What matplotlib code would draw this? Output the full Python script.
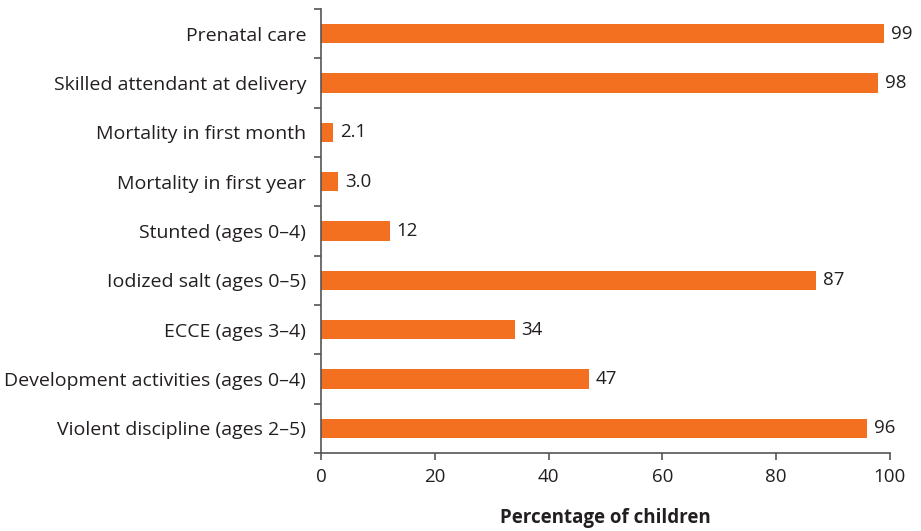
import numpy as np
import matplotlib.pyplot as plt

categories = [
    "Prenatal care",
    "Skilled attendant at delivery",
    "Mortality in first month",
    "Mortality in first year",
    "Stunted (ages 0\u20134)",
    "Iodized salt (ages 0\u20135)",
    "ECCE (ages 3\u20134)",
    "Development activities (ages 0\u20134)",
    "Violent discipline (ages 2\u20135)",
]
values = [99, 98, 2.1, 3.0, 12, 87, 34, 47, 96]
value_labels = ["99", "98", "2.1", "3.0", "12", "87", "34", "47", "96"]
xticks = [0, 20, 40, 60, 80, 100]

plt.rcParams['font.family'] = ['Open Sans', 'DejaVu Sans']
text_col = '#231f20'
spine_col = '#555555'
bar_col = '#f37021'
fs = 13.5

fig = plt.figure(figsize=(9.21, 5.31), dpi=100)
ax = fig.add_axes([0.349, 0.147, 0.617, 0.836])

y = np.arange(len(categories))
ax.barh(y, values, height=0.39, color=bar_col)

# value labels just past the bar ends
for yi, v, lab in zip(y, values, value_labels):
    ax.annotate(lab, (v, yi), xytext=(5, 0), textcoords='offset points',
                va='center', ha='left', fontsize=fs, color=text_col)

ax.set_ylim(len(categories) - 0.5, -0.5)
ax.set_xlim(0, 100)
ax.set_yticks(y)
ax.set_yticklabels(categories)
# ticks sit between categories on the left axis
ax.set_yticks(np.arange(len(categories) + 1) - 0.5, minor=True)
ax.tick_params(axis='y', which='major', length=0, pad=11, labelsize=14, labelcolor=text_col)
ax.tick_params(axis='y', which='minor', length=5, width=1.2, color=spine_col)

ax.set_xticks(xticks)
ax.tick_params(axis='x', length=5, width=1.2, color=spine_col, labelsize=fs,
               labelcolor=text_col, pad=6)

for s in ['top', 'right']:
    ax.spines[s].set_visible(False)
for s in ['left', 'bottom']:
    ax.spines[s].set_color(spine_col)
    ax.spines[s].set_linewidth(1.2)

ax.set_xlabel("Percentage of children", fontsize=fs, fontweight='bold',
              color=text_col, labelpad=16)

fig.savefig("out.png", dpi=100)
